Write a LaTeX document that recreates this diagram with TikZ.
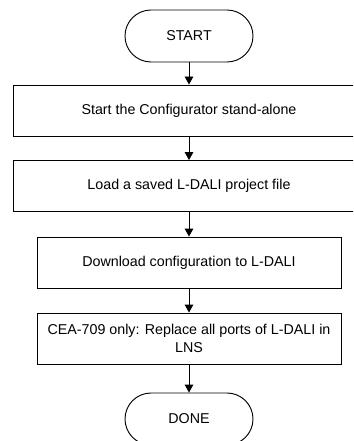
\documentclass[tikz,border=0pt]{standalone}
\usepackage{fontspec}
\setmainfont{Liberation Sans}
\usepackage{tikz}
\usetikzlibrary{arrows.meta}

\begin{document}
\begin{tikzpicture}[x=0.75pt, y=-0.75pt,
    every node/.style={font=\fontsize{10.7}{13.3}\selectfont},
    terminal/.style={draw, line width=0.7pt, rounded corners=19.5pt, minimum width=96pt, minimum height=39pt, align=center},
    widebox/.style={draw, line width=0.7pt, minimum width=264pt, minimum height=38.25pt, align=center},
    stepbox/.style={draw, line width=0.7pt, minimum width=228pt, minimum height=38.25pt, align=center},
    flow/.style={-{Triangle[length=6pt, width=6.5pt]}, line width=0.7pt}]
        \useasboundingbox (0,0) rectangle (353,441);
        \clip (0,0) rectangle (353,441);

        % Start and end
        \node[terminal] (start) at (189,36) {START};
        \node[terminal] (done) at (189,419) {DONE};

        % Steps
        \node[widebox] (standalone) at (189,110.5) {Start the Configurator stand-alone};
        \node[widebox] (loadfile) at (189,186) {Load a saved L-DALI project file};
        \node[stepbox] (download) at (189,262.5) {Download configuration to L-DALI};
        \node[stepbox] (replace) at (189,338.5) {CEA-709 only: Replace all ports of L-DALI in\\LNS};

        % Arrows
        \draw[flow] (start) -- (standalone);
        \draw[flow] (standalone) -- (loadfile);
        \draw[flow] (loadfile) -- (download);
        \draw[flow] (download) -- (replace);
        \draw[flow] (replace) -- (done);
    \end{tikzpicture}
\end{document}
